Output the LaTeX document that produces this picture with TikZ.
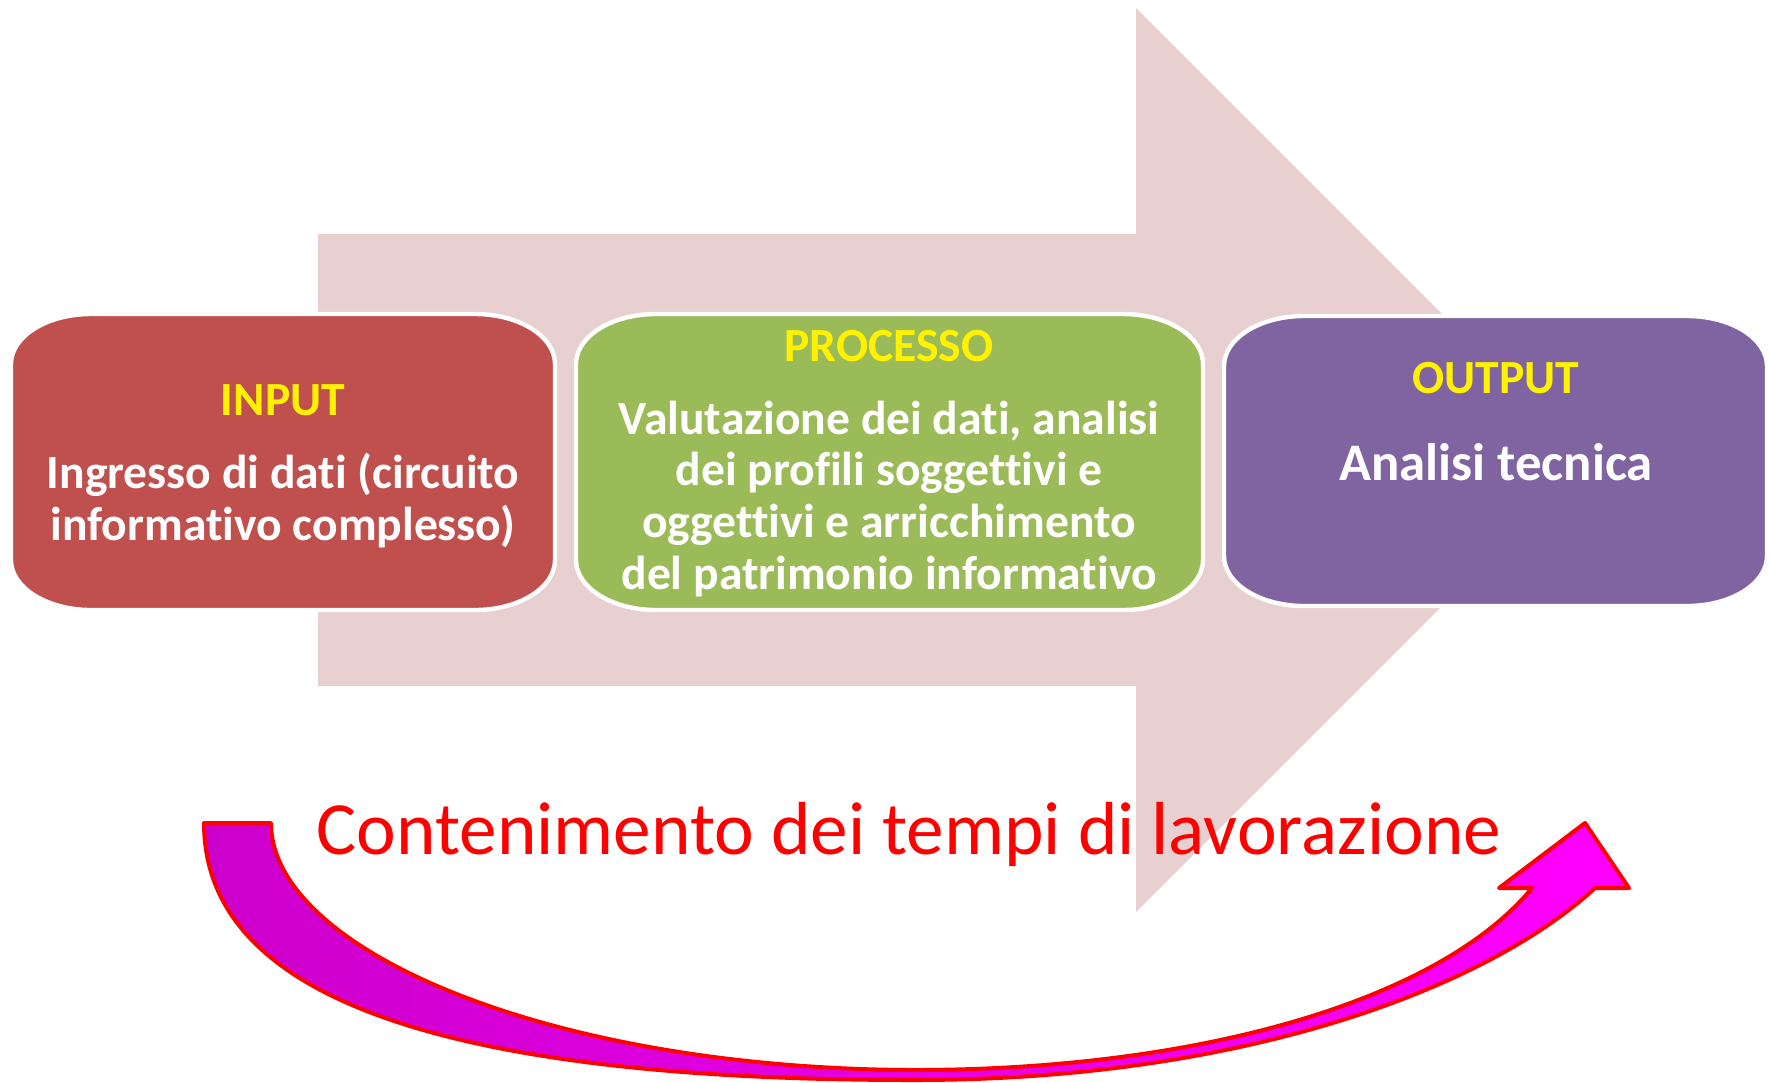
\documentclass[tikz,border=0pt]{standalone}
\usepackage{fontspec}
\setmainfont{Carlito}[Ligatures=NoCommon]
\usepackage{tikz}

\definecolor{arrowpink}{RGB}{232,208,209}
\definecolor{inputred}{RGB}{192,80,77}
\definecolor{processgreen}{RGB}{155,187,89}
\definecolor{outputviolet}{RGB}{128,100,162}
\definecolor{darkmagenta}{RGB}{204,0,204}

\newcommand{\cornerx}{80}
\newcommand{\cornery}{50}
\newcommand{\ovalbox}[4]{(#1,#3+\cornery) arc[start angle=180,end angle=270,x radius=\cornerx,y radius=\cornery] -- (#2-\cornerx,#3) arc[start angle=270,end angle=360,x radius=\cornerx,y radius=\cornery] -- (#2,#4-\cornery) arc[start angle=0,end angle=90,x radius=\cornerx,y radius=\cornery] -- (#1+\cornerx,#4) arc[start angle=90,end angle=180,x radius=\cornerx,y radius=\cornery] -- cycle}

\begin{document}
\begin{tikzpicture}[x=0.5pt,y=-0.5pt]
\tikzstyle{boxline}=[draw=white,line width=2.2pt];
\tikzstyle{head}=[anchor=base,text=yellow,font=\bfseries\fontsize{23.8}{25.8}\selectfont];
\tikzstyle{body}=[anchor=base,text=white,align=center,font=\bfseries\fontsize{23.8}{25.8}\selectfont];
\useasboundingbox (0,0) rectangle (1770,1082);
\fill[arrowpink] (318,234) -- (1136,234) -- (1136,8) -- (1588,460) -- (1136,912) -- (1136,686) -- (318,686) -- cycle;
\path[boxline,fill=inputred] \ovalbox{11}{555}{314}{610};
\path[boxline,fill=processgreen] \ovalbox{576}{1203}{314}{610};
\path[boxline,fill=outputviolet] \ovalbox{1224}{1767}{316}{606};
% base of a two- or four-line node is its last line
\path (283,415) node[head] (inhead) {INPUT};
\path (283,540) node[body] (intext) {Ingresso di dati (circuito\\informativo complesso)};
\path (889,361) node[head] (prochead) {PROCESSO};
\path (889,589) node[body] (proctext) {Valutazione dei dati, analisi\\dei profili soggettivi e\\oggettivi e arricchimento\\del patrimonio informativo};
\path (1496,393) node[head] (outhead) {OUTPUT};
\path (1496,480) node[body,font=\bfseries\fontsize{26.4}{28}\selectfont] (outtext) {Analisi tecnica};
\path[draw=red,line width=2pt,line join=round,left color=darkmagenta,right color=magenta]
 (204,823) -- (271,823)
 .. controls (271,950) and (550,1069) .. (914,1070)
 .. controls (1200,1070) and (1440,1000) .. (1532,888)
 -- (1499,888) -- (1585,823) -- (1629,888) -- (1595,888)
 .. controls (1490,985) and (1250,1080) .. (914,1080)
 .. controls (450,1080) and (204,1000) .. (204,823) -- cycle;
\path (909,854) node[anchor=base,text=red,font=\fontsize{37.6}{40}\selectfont] (timing) {Contenimento dei tempi di lavorazione};
\end{tikzpicture}
\end{document}
